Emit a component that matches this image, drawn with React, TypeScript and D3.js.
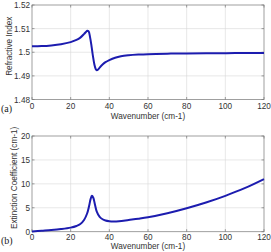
import React from "react";
import * as d3 from "d3";

const nWave = [0, 5, 10, 15, 20, 23, 25, 27, 28, 28.6, 29.3, 30, 30.8, 31.5, 32.3, 33, 33.5, 34.2, 35, 36.5, 38, 40, 43, 46, 50, 55, 60, 70, 80, 90, 100, 110, 120];
const nIndex = [1.5025, 1.5026, 1.5029, 1.5034, 1.5043, 1.5052, 1.5062, 1.5078, 1.5087, 1.5091, 1.5088, 1.5065, 1.5025, 1.4985, 1.4947, 1.4928, 1.4924, 1.4927, 1.4935, 1.4948, 1.4958, 1.4967, 1.4977, 1.4983, 1.4987, 1.499, 1.4992, 1.4994, 1.4995, 1.4996, 1.4996, 1.4997, 1.4997];

const kWave = [0, 5, 10, 15, 20, 23, 25, 27, 28.5, 29.5, 30.3, 31, 31.7, 32.5, 33.5, 35, 36.5, 38, 40, 42, 45, 50, 55, 60, 70, 80, 90, 100, 110, 120];
const kExt = [0.05, 0.2, 0.35, 0.55, 0.85, 1.2, 1.6, 2.5, 3.8, 5.3, 6.8, 7.5, 7.1, 5.8, 4.2, 3.1, 2.6, 2.35, 2.2, 2.15, 2.2, 2.45, 2.7, 3.0, 3.85, 4.9, 6.1, 7.5, 9.1, 11.0];

const xTicks = [0, 20, 40, 60, 80, 100, 120];
const nTicks = [1.48, 1.49, 1.5, 1.51, 1.52];
const kTicks = [0, 5, 10, 15, 20];

const left = 32;
const right = 264;
const font = "'Liberation Sans', Arial, sans-serif";
const fs = 8.2;

interface PanelProps {
  xs: number[];
  ys: number[];
  yTicks: number[];
  yDomain: [number, number];
  top: number;
  bottom: number;
  yLabel: string;
  yLabelX: number;
  tickGap: number;
  xLabelGap: number;
  tag: string;
}

const Panel = (p: PanelProps) => {
  const x = d3.scaleLinear().domain([0, 120]).range([left, right]);
  const y = d3.scaleLinear().domain(p.yDomain).range([p.bottom, p.top]);
  const line = d3
    .line<number>()
    .x((_, i) => x(p.xs[i]))
    .y((d) => y(d))
    .curve(d3.curveCatmullRom);
  const mid = (p.top + p.bottom) / 2;
  return (
    <g>
      <rect x={left} y={p.top} width={right - left} height={p.bottom - p.top} fill="#fff" />
      {xTicks.slice(1, -1).map((t) => (
        <line key={"gx" + t} x1={x(t)} x2={x(t)} y1={p.top} y2={p.bottom} stroke="#d8d8d8" strokeWidth={0.6} />
      ))}
      {p.yTicks.slice(1, -1).map((t) => (
        <line key={"gy" + t} x1={left} x2={right} y1={y(t)} y2={y(t)} stroke="#d8d8d8" strokeWidth={0.6} />
      ))}
      <rect x={left} y={p.top} width={right - left} height={p.bottom - p.top} fill="none" stroke="#888" strokeWidth={0.8} />
      {xTicks.map((t) => (
        <g key={"tx" + t}>
          <line x1={x(t)} x2={x(t)} y1={p.bottom} y2={p.bottom - 2.5} stroke="#777" strokeWidth={0.7} />
          <line x1={x(t)} x2={x(t)} y1={p.top} y2={p.top + 2.5} stroke="#777" strokeWidth={0.7} />
          <text x={x(t)} y={p.bottom + p.tickGap} textAnchor="middle" fontSize={fs} fill="#333" fontFamily={font}>
            {t}
          </text>
        </g>
      ))}
      {p.yTicks.map((t) => (
        <g key={"ty" + t}>
          <line x1={left} x2={left + 2.5} y1={y(t)} y2={y(t)} stroke="#777" strokeWidth={0.7} />
          <line x1={right} x2={right - 2.5} y1={y(t)} y2={y(t)} stroke="#777" strokeWidth={0.7} />
          <text x={left - 2} y={y(t) + 3} textAnchor="end" fontSize={fs} fill="#333" fontFamily={font}>
            {String(t)}
          </text>
        </g>
      ))}
      <path d={line(p.ys) ?? ""} fill="none" stroke="#1c1caf" strokeWidth={2} />
      <text
        transform={`translate(${p.yLabelX},${mid - 6}) rotate(-90)`}
        textAnchor="middle"
        fontSize={fs}
        fill="#333"
        fontFamily={font}
      >
        {p.yLabel}
      </text>
      <text x={(left + right) / 2} y={p.bottom + p.xLabelGap} textAnchor="middle" fontSize={fs} fill="#333" fontFamily={font}>
        Wavenumber (cm-1)
      </text>
      <text x={1} y={p.bottom + 12.5} fontSize={10} fill="#222" fontFamily="'Liberation Serif', 'Times New Roman', serif">
        {p.tag}
      </text>
    </g>
  );
};

const App = () => {
  return (
    <svg width={271} height={252} style={{ position: "absolute", left: 0, top: 0, background: "#fff" }}>
      <rect width={271} height={252} fill="#fff" />
      <Panel xs={nWave} ys={nIndex} yTicks={nTicks} yDomain={[1.48, 1.52]} top={5} bottom={99.5} yLabel="Refractive Index" yLabelX={12} tickGap={9} xLabelGap={19.5} tag="(a)" />
      <Panel xs={kWave} ys={kExt} yTicks={kTicks} yDomain={[0, 20]} top={136} bottom={231.7} yLabel="Extinction Coefficient (cm-1)" yLabelX={17} tickGap={8} xLabelGap={16.8} tag="(b)" />
    </svg>
  );
};

export default App;
